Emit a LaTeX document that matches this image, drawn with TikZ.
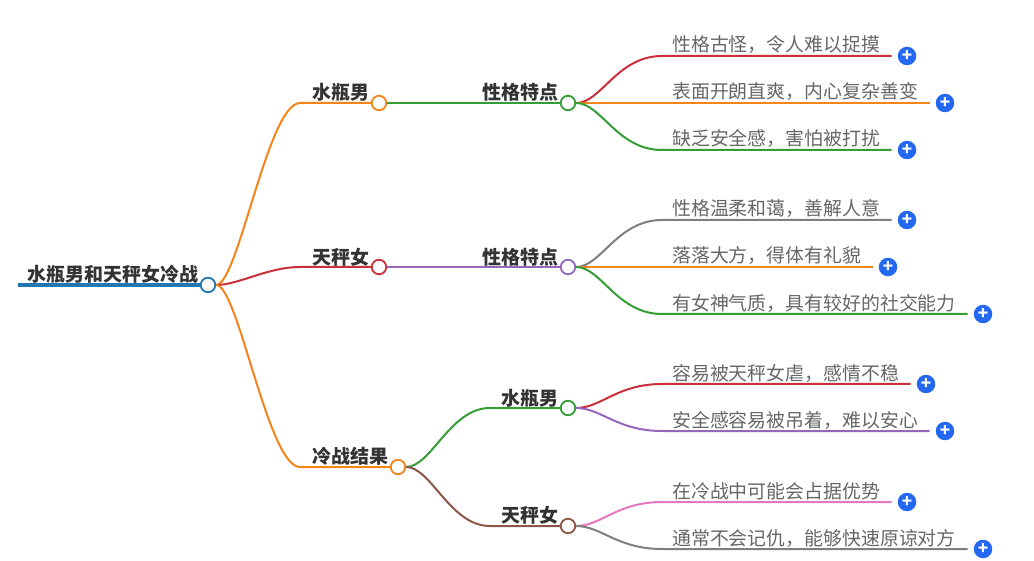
\documentclass[tikz,border=0pt]{standalone}
\usepackage{fontspec}
\setmainfont{Noto Sans CJK SC}
\usepackage{xcolor}
\definecolor{cblue}{HTML}{1F77B4}
\definecolor{corange}{HTML}{F5851B}
\definecolor{cgreen}{HTML}{349E34}
\definecolor{cred}{HTML}{C9303A}
\definecolor{cpurple}{HTML}{9467BD}
\definecolor{cbrown}{HTML}{8C564B}
\definecolor{cpink}{HTML}{E377C2}
\definecolor{cgrey}{HTML}{7F7F7F}
\definecolor{cplus}{HTML}{2468F2}
\definecolor{ctext}{HTML}{333333}
\definecolor{cleaf}{HTML}{666666}
\tikzset{
    dot/.style={circle, draw=#1, fill=white, line width=1.8pt, minimum size=14.5pt, inner sep=0pt},
    link/.style={draw=#1, line width=2pt},
    topic/.style={font=\fontsize{19}{19}\selectfont\bfseries, text=ctext, inner sep=0pt},
    leaf/.style={font=\fontsize{18.9}{19}\selectfont, text=cleaf, inner sep=0pt, anchor=west},
    plus/.style={circle, fill=cplus, text=white, minimum size=18.5pt, inner sep=0pt, font=\fontsize{17}{17}\selectfont\bfseries}
}
\begin{document}
\begin{tikzpicture}[x=1pt, y=-1pt]
    \useasboundingbox (0, 0) rectangle (1034, 561);
    % main nodes
    \node[dot=cblue] (root) at (208, 285) {};
    \node[dot=corange] (man) at (379, 103) {};
    \node[dot=cred] (woman) at (379, 267) {};
    \node[dot=corange] (result) at (398, 467) {};
    \node[dot=cgreen] (mantrait) at (568, 103) {};
    \node[dot=cpurple] (womantrait) at (568, 267) {};
    \node[dot=cgreen] (manres) at (568, 408) {};
    \node[dot=cbrown] (womanres) at (568, 526) {};
    % labels
    \node[topic, anchor=east] (rootlabel) at (198.8, 274) {水瓶男和天秤女冷战};
    \node[topic, anchor=east] (manlabel) at (369.8, 92) {水瓶男};
    \node[topic, anchor=east] (womanlabel) at (369.8, 257) {天秤女};
    \node[topic, anchor=east] (resultlabel) at (388.8, 456) {冷战结果};
    \node[topic, anchor=east] (mantraitlabel) at (558.8, 92) {性格特点};
    \node[topic, anchor=east] (womantraitlabel) at (558.8, 257) {性格特点};
    \node[topic, anchor=east] (manreslabel) at (558.8, 398) {水瓶男};
    \node[topic, anchor=east] (womanreslabel) at (558.8, 515) {天秤女};
    % leaves
    \node[leaf] (a1) at (672, 44.5) {性格古怪，令人难以捉摸};
    \node[leaf] (a2) at (672, 91.5) {表面开朗直爽，内心复杂善变};
    \node[leaf] (a3) at (672, 138.5) {缺乏安全感，害怕被打扰};
    \node[leaf] (b1) at (672, 208.5) {性格温柔和蔼，善解人意};
    \node[leaf] (b2) at (672, 256) {落落大方，得体有礼貌};
    \node[leaf] (b3) at (672, 303) {有女神气质，具有较好的社交能力};
    \node[leaf] (c1) at (672, 373) {容易被天秤女虐，感情不稳};
    \node[leaf] (c2) at (672, 420) {安全感容易被吊着，难以安心};
    \node[leaf] (d1) at (672, 491) {在冷战中可能会占据优势};
    \node[leaf] (d2) at (672, 538.5) {通常不会记仇，能够快速原谅对方};
    % plus buttons
    \node[plus] (pa1) at (907, 56) {+};
    \node[plus] (pa2) at (945, 103) {+};
    \node[plus] (pa3) at (907, 150) {+};
    \node[plus] (pb1) at (907, 220) {+};
    \node[plus] (pb2) at (888, 267) {+};
    \node[plus] (pb3) at (983, 314) {+};
    \node[plus] (pc1) at (926, 384) {+};
    \node[plus] (pc2) at (945, 431) {+};
    \node[plus] (pd1) at (907, 502) {+};
    \node[plus] (pd2) at (983, 549) {+};
    % free ends
    \coordinate (rootstart) at (18, 285);
    \foreach \p in {a1, a2, a3, b1, b2, b3, c1, c2, d1, d2}
        \coordinate (e\p) at ([xshift=-6pt]p\p.west);
    % connectors
    \draw[link=cblue, line width=4pt] (rootstart) -- (root.west);
    \draw[link=corange] (root.east) .. controls +(22, 0) and +(-32, 0) .. (300, 103) -- (man.west);
    \draw[link=cred] (root.east) .. controls +(22, 0) and +(-32, 0) .. (300, 267) -- (woman.west);
    \draw[link=corange] (root.east) .. controls +(22, 0) and +(-32, 0) .. (300, 467) -- (result.west);
    \draw[link=cgreen] (man.east) -- (mantrait.west);
    \draw[link=cpurple] (woman.east) -- (womantrait.west);
    \draw[link=cgreen] (result.east) .. controls +(25, 0) and +(-40, 0) .. (490, 408) -- (manres.west);
    \draw[link=cbrown] (result.east) .. controls +(25, 0) and +(-40, 0) .. (490, 526) -- (womanres.west);
    \draw[link=cred] (mantrait.east) .. controls +(25, 0) and +(-45, 0) .. (662, 56) -- (ea1);
    \draw[link=corange] (mantrait.east) -- (ea2);
    \draw[link=cgreen] (mantrait.east) .. controls +(25, 0) and +(-45, 0) .. (662, 150) -- (ea3);
    \draw[link=cgrey] (womantrait.east) .. controls +(25, 0) and +(-45, 0) .. (662, 220) -- (eb1);
    \draw[link=corange] (womantrait.east) -- (eb2);
    \draw[link=cgreen] (womantrait.east) .. controls +(25, 0) and +(-45, 0) .. (662, 314) -- (eb3);
    \draw[link=cred] (manres.east) .. controls +(25, 0) and +(-45, 0) .. (662, 384) -- (ec1);
    \draw[link=cpurple] (manres.east) .. controls +(25, 0) and +(-45, 0) .. (662, 431) -- (ec2);
    \draw[link=cpink] (womanres.east) .. controls +(25, 0) and +(-45, 0) .. (662, 502) -- (ed1);
    \draw[link=cgrey] (womanres.east) .. controls +(25, 0) and +(-45, 0) .. (662, 549) -- (ed2);
\end{tikzpicture}
\end{document}
